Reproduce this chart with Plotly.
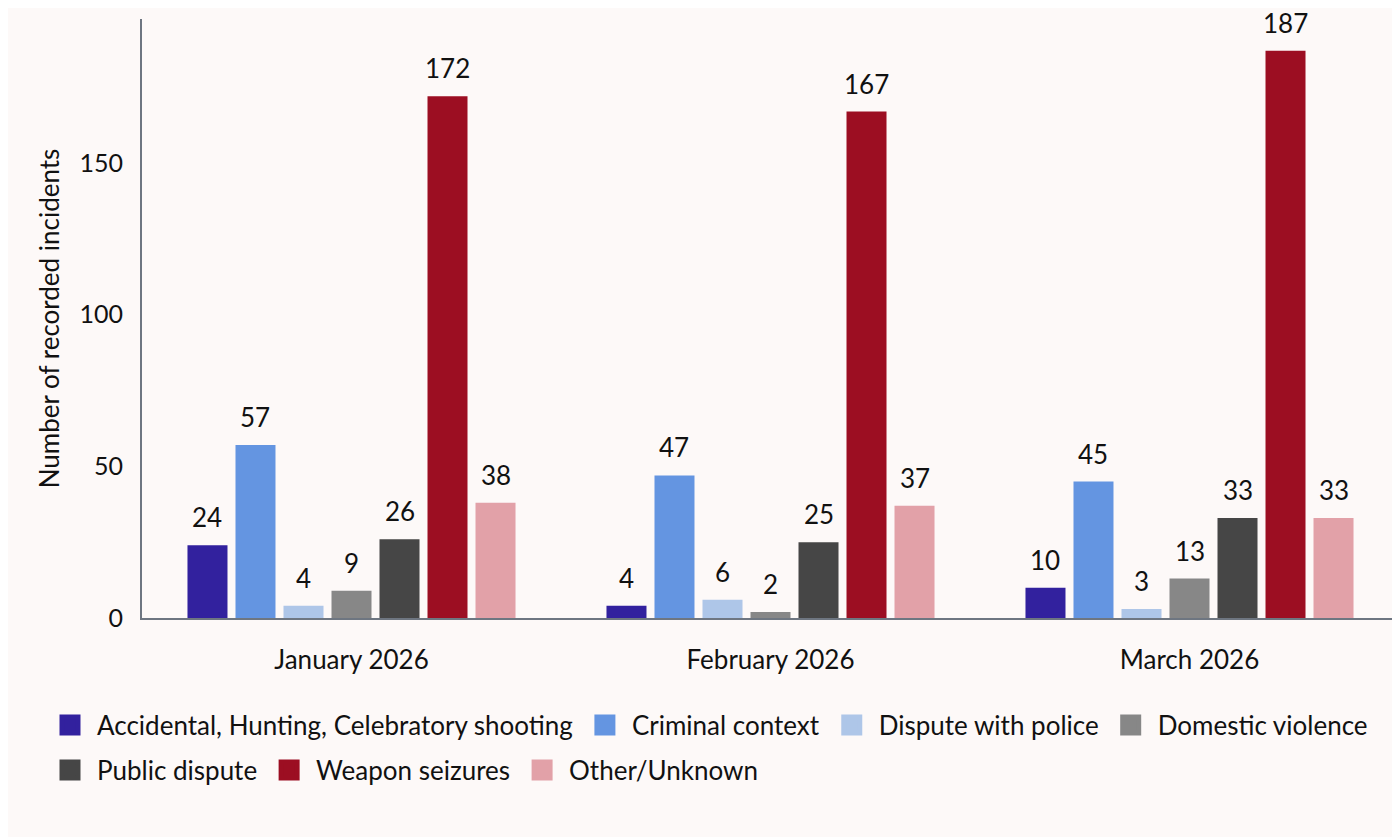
import plotly.graph_objects as go

months = ["January 2026", "February 2026", "March 2026"]
series_names = [
    "Accidental, Hunting, Celebratory shooting",
    "Criminal context",
    "Dispute with police",
    "Domestic violence",
    "Public dispute",
    "Weapon seizures",
    "Other/Unknown",
]
accidental = [24, 4, 10]
criminal = [57, 47, 45]
police = [4, 6, 3]
domestic = [9, 2, 13]
public = [26, 25, 33]
seizures = [172, 167, 187]
other = [38, 37, 33]
series_values = [accidental, criminal, police, domestic, public, seizures, other]
colors = ["#32219e", "#6495e1", "#aec6e8", "#878787", "#464646", "#9c0e22", "#e2a1a8"]
legend_rows = ["legend", "legend", "legend", "legend", "legend2", "legend2", "legend2"]
y_ticks = [0, 50, 100, 150]

BG = "#fdf9f8"
FONT = "Lato"
TXT = "#111111"
W, H = 1400, 837
ML, MR, MT, MB = 134, 9, 11, 227
PLOT_W = W - ML - MR
PLOT_H = H - MT - MB
BARGAP = 0.198
GROUPGAP = 0.1667
n = len(series_names)
slot_px = (1 - BARGAP) * PLOT_W / len(months) / n

fig = go.Figure()
for i, (name, vals, col) in enumerate(zip(series_names, series_values, colors)):
    fig.add_trace(go.Bar(
        x=months, y=vals, name=name, legendgroup=name, showlegend=False,
        marker=dict(color=col, line=dict(width=0)),
    ))
    for m, v in zip(months, vals):
        fig.add_annotation(
            x=m, y=v, text=str(v), showarrow=False, yanchor="bottom", xanchor="center",
            xshift=(i - (n - 1) / 2) * slot_px, yshift=10,
            font=dict(family=FONT, size=26, color=TXT),
        )

# legend entries (square swatches)
for name, col, lg in zip(series_names, colors, legend_rows):
    fig.add_trace(go.Scatter(
        x=[None], y=[None], mode="markers", name=name, legendgroup=name, legend=lg,
        marker=dict(symbol="square", size=16, color=col, line=dict(color=col, width=5)),
        hoverinfo="skip",
    ))

legend_common = dict(
    orientation="h", xanchor="left", yanchor="middle",
    x=(35 - ML) / PLOT_W,
    font=dict(family=FONT, size=26, color=TXT),
    bgcolor="rgba(0,0,0,0)", traceorder="normal", itemwidth=44,
)

fig.update_layout(
    width=W, height=H,
    margin=dict(l=ML, r=MR, t=MT, b=MB, pad=0, autoexpand=False),
    paper_bgcolor=BG, plot_bgcolor=BG,
    barmode="group", bargap=BARGAP, bargroupgap=GROUPGAP,
    font=dict(family=FONT, size=26, color=TXT),
    showlegend=True,
    legend=dict(legend_common, y=-(717 - (MT + PLOT_H)) / PLOT_H),
    legend2=dict(legend_common, y=-(762 - (MT + PLOT_H)) / PLOT_H),
    xaxis=dict(
        showline=True, linecolor="#6e7681", linewidth=2, showgrid=False,
        ticks="", tickfont=dict(size=26), ticklabelstandoff=18, fixedrange=True,
    ),
    yaxis=dict(
        range=[0, 197.5], tickvals=y_ticks, showline=True, linecolor="#6e7681",
        linewidth=2, showgrid=False, zeroline=False, ticks="",
        tickfont=dict(size=25), ticklabelstandoff=12,
        title=dict(text="Number of recorded incidents", font=dict(size=26), standoff=12),
    ),
)

fig.write_html("out.html")
